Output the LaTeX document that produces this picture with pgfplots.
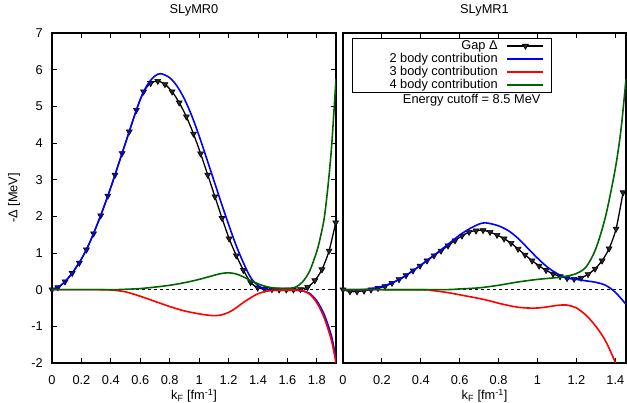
\documentclass[border=0pt]{standalone}
\usepackage{fontspec}
\setmainfont{Liberation Sans}
\usepackage{pgfplots}
\pgfplotsset{compat=1.18}
\definecolor{dgreen}{RGB}{0,100,0}
\definecolor{mblue}{RGB}{0,0,255}
\definecolor{mred}{RGB}{255,0,0}

\pgfplotstableread{
k v
0 0
0.040 0.06
0.0885 0.22
0.137 0.45
0.1855 0.73
0.234 1.09
0.2825 1.53
0.331 2.02
0.3795 2.56
0.428 3.13
0.4765 3.72
0.525 4.31
0.5735 4.90
0.622 5.40
0.6705 5.63
0.719 5.69
0.7675 5.60
0.816 5.40
0.8645 5.10
0.913 4.72
0.9615 4.25
1.010 3.71
1.0585 3.13
1.107 2.54
1.1555 1.95
1.204 1.39
1.2525 0.93
1.301 0.53
1.3495 0.20
1.398 0.05
1.4465 0.02
1.495 0.01
1.5435 0.00
1.592 0.00
1.6405 0.00
1.689 0.01
1.7375 0.07
1.786 0.25
1.8345 0.55
1.883 1.06
1.928 1.83
}\gapL

\pgfplotstableread{
k v
0 0
0.05 0.09
0.1 0.27
0.15 0.53
0.2 0.84
0.25 1.23
0.3 1.71
0.35 2.23
0.4 2.79
0.45 3.40
0.5 4.01
0.55 4.62
0.6 5.19
0.65 5.60
0.7 5.83
0.74 5.89
0.8 5.78
0.85 5.55
0.9 5.20
0.95 4.74
1.0 4.19
1.05 3.59
1.1 2.98
1.15 2.37
1.2 1.78
1.25 1.22
1.3 0.74
1.35 0.33
1.4 0.11
1.45 0.01
1.5 -0.02
1.55 -0.02
1.6 -0.02
1.65 -0.02
1.7 -0.03
1.75 -0.10
1.8 -0.31
1.85 -0.68
1.9 -1.28
1.93 -1.90
}\twoL

\pgfplotstableread{
k v
0 0
0.2 0
0.3 0
0.4 -0.01
0.5 -0.06
0.6 -0.18
0.7 -0.32
0.8 -0.46
0.9 -0.58
1.0 -0.66
1.05 -0.69
1.1 -0.71
1.15 -0.69
1.2 -0.62
1.25 -0.50
1.3 -0.35
1.35 -0.22
1.4 -0.11
1.45 -0.05
1.5 -0.02
1.55 -0.01
1.6 -0.01
1.65 -0.01
1.7 -0.03
1.75 -0.12
1.8 -0.36
1.85 -0.77
1.9 -1.40
1.93 -2.0
}\threeL

\pgfplotstableread{
k v
0 0
0.4 0
0.5 0.01
0.6 0.03
0.7 0.07
0.8 0.12
0.9 0.19
1.0 0.28
1.1 0.39
1.15 0.44
1.2 0.46
1.25 0.43
1.3 0.35
1.35 0.25
1.4 0.16
1.45 0.09
1.5 0.05
1.55 0.03
1.6 0.03
1.65 0.06
1.7 0.20
1.75 0.50
1.8 1.05
1.825 1.45
1.85 1.95
1.875 2.8
1.9 3.9
1.93 5.75
}\fourL

\pgfplotstableread{
k v
0 0
0.036 -0.05
0.072 -0.05
0.108 -0.03
0.144 0.0
0.18 0.04
0.216 0.09
0.252 0.18
0.288 0.28
0.324 0.39
0.36 0.52
0.396 0.65
0.432 0.79
0.468 0.93
0.504 1.06
0.54 1.20
0.576 1.34
0.612 1.47
0.648 1.57
0.684 1.61
0.72 1.62
0.756 1.57
0.792 1.49
0.828 1.39
0.864 1.27
0.90 1.11
0.936 0.95
0.972 0.79
1.008 0.65
1.044 0.53
1.08 0.43
1.116 0.36
1.152 0.31
1.188 0.29
1.224 0.32
1.26 0.42
1.296 0.57
1.332 0.79
1.368 1.12
1.404 1.66
1.44 2.65
}\gapR

\pgfplotstableread{
k v
0 0
0.1 0.0
0.15 0.03
0.2 0.09
0.25 0.18
0.3 0.31
0.35 0.48
0.4 0.67
0.45 0.87
0.5 1.07
0.55 1.28
0.6 1.49
0.65 1.66
0.7 1.79
0.725 1.82
0.75 1.81
0.8 1.74
0.85 1.61
0.9 1.40
0.95 1.13
1.0 0.86
1.05 0.62
1.1 0.44
1.15 0.33
1.2 0.28
1.25 0.24
1.3 0.20
1.35 0.12
1.4 -0.07
1.455 -0.40
}\twoR

\pgfplotstableread{
k v
0 0
0.4 0
0.45 -0.02
0.5 -0.05
0.55 -0.09
0.6 -0.14
0.65 -0.19
0.7 -0.24
0.75 -0.30
0.8 -0.37
0.85 -0.43
0.9 -0.48
0.95 -0.50
1.0 -0.50
1.05 -0.47
1.1 -0.43
1.15 -0.42
1.2 -0.50
1.25 -0.70
1.3 -1.0
1.35 -1.40
1.4 -1.98
1.42 -2.25
}\threeR

\pgfplotstableread{
k v
0 0
0.5 0
0.6 0.02
0.7 0.05
0.8 0.12
0.9 0.21
1.0 0.28
1.1 0.33
1.15 0.37
1.2 0.44
1.25 0.62
1.3 1.12
1.35 2.0
1.4 3.3
1.43 4.4
1.455 5.75
}\fourR

\pgfplotsset{
  myaxis/.style={
    scale only axis, height=330pt, ymin=-2, ymax=7,
    anchor=south west,
    font=\fontsize{12.8}{14}\selectfont,
    axis line style={line width=1.2pt},
    tick style={black, line width=0.9pt}, major tick length=5pt,
    tick align=inside,
    /pgf/number format/assume math mode=true,
    xticklabel style={anchor=base, yshift=-21.5pt, inner sep=0pt},
    yticklabel style={anchor=east, xshift=-9pt, inner sep=0pt},
    title style={at={(0.5,1)}, anchor=base, yshift=13.5pt, inner sep=0pt},
    xlabel style={at={(axis description cs:0.5,-0.112)}, anchor=base, inner sep=0pt},
    xlabel={k\textsubscript{F} [fm\textsuperscript{-1}]},
    clip mode=individual,
  },
  gapstyle/.style={black, line width=1.3pt, smooth, tension=0.45, mark=triangle*, mark size=3.4pt,
    mark options={rotate=180, fill=black!85, draw=black, line width=0.6pt}},
}

\begin{document}
\begin{tikzpicture}
\useasboundingbox (0pt,0pt) rectangle (627pt,403pt);

\begin{axis}[myaxis, at={(52pt,40pt)}, width=284pt,
  xmin=0, xmax=1.93, xtick={0,0.2,...,1.81}, ytick={-2,-1,...,7},
  title={SLyMR0},
  ylabel={-Δ  [MeV]},
  ylabel style={at={(axis description cs:-0.134,0.5)}, anchor=center, inner sep=0pt},
]
\addplot[black, line width=0.8pt, dash pattern=on 3pt off 3pt, forget plot] coordinates {(0,0) (1.93,0)};
\addplot[gapstyle] table[x=k,y=v] {\gapL};
\addplot[mblue, line width=1.6pt, smooth, tension=0.5] table[x=k,y=v] {\twoL};
\addplot[mred, line width=1.6pt, smooth, tension=0.5] table[x=k,y=v] {\threeL};
\addplot[dgreen, line width=1.6pt, smooth, tension=0.5] table[x=k,y=v] {\fourL};
\end{axis}

\begin{axis}[myaxis, at={(343pt,40pt)}, width=283pt,
  xmin=0, xmax=1.455, xtick={0,0.2,...,1.41}, ytick=\empty,
  title={SLyMR1},
  legend plot pos=right,
  legend cell align=right,
  legend style={at={(0.032,0.985)}, anchor=north west, draw=black, line width=0.9pt,
    fill=white, inner xsep=7pt, inner ysep=1.5pt, column sep=9pt, row sep=1pt,
    font=\fontsize{12.8}{14}\selectfont,
    nodes={inner sep=0pt, text height=9.3pt, text depth=2.7pt}},
]
\addplot[black, line width=0.8pt, dash pattern=on 3pt off 3pt, forget plot] coordinates {(0,0) (1.455,0)};
\addplot[gapstyle,
  legend image code/.code={\draw[black, line width=1.3pt] (0pt,0pt) -- (36pt,0pt);
    \draw[black!85, line width=0.6pt, fill=black!85] plot[mark=triangle*, mark size=3.4pt, mark options={rotate=180, draw=black}] coordinates {(18pt,0pt)};}]
  table[x=k,y=v] {\gapR};
\addlegendentry{Gap Δ}
\addplot[mblue, line width=1.6pt, smooth, tension=0.5,
  legend image code/.code={\draw[mblue, line width=1.6pt] (0pt,0pt) -- (36pt,0pt);}]
  table[x=k,y=v] {\twoR};
\addlegendentry{\hspace*{30pt}2 body contribution}
\addplot[mred, line width=1.6pt, smooth, tension=0.5,
  legend image code/.code={\draw[mred, line width=1.6pt] (0pt,0pt) -- (36pt,0pt);}]
  table[x=k,y=v] {\threeR};
\addlegendentry{3 body contribution}
\addplot[dgreen, line width=1.6pt, smooth, tension=0.5,
  legend image code/.code={\draw[dgreen, line width=1.6pt] (0pt,0pt) -- (36pt,0pt);}]
  table[x=k,y=v] {\fourR};
\addlegendentry{4 body contribution}
\node[anchor=east, inner sep=0pt, font=\fontsize{12.8}{14}\selectfont] at (axis cs:1.016,5.18) {Energy cutoff = 8.5 MeV};
\end{axis}
\end{tikzpicture}
\end{document}
